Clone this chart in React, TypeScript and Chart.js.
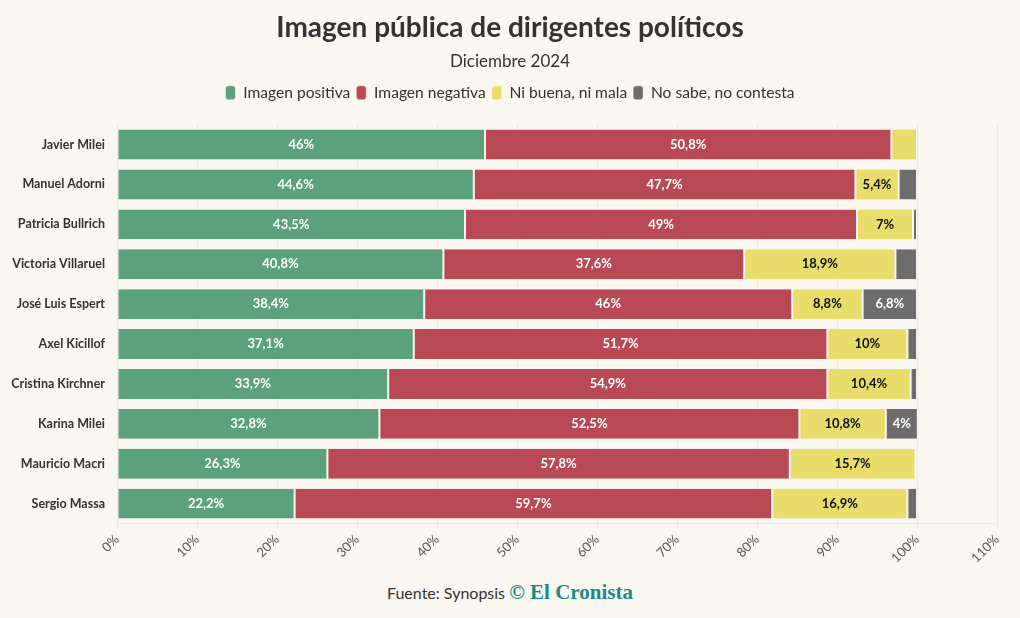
import React, { useEffect, useRef } from "react";
import { Chart, registerables } from "chart.js";

Chart.register(...registerables);

const categories = [
  "Javier Milei",
  "Manuel Adorni",
  "Patricia Bullrich",
  "Victoria Villaruel",
  "José Luis Espert",
  "Axel Kicillof",
  "Cristina Kirchner",
  "Karina Milei",
  "Mauricio Macri",
  "Sergio Massa",
];

const positiva = [46, 44.6, 43.5, 40.8, 38.4, 37.1, 33.9, 32.8, 26.3, 22.2];
const negativa = [50.8, 47.7, 49, 37.6, 46, 51.7, 54.9, 52.5, 57.8, 59.7];
const niBuena = [3.2, 5.4, 7, 18.9, 8.8, 10, 10.4, 10.8, 15.7, 16.9];
const noSabe = [0, 2.3, 0.5, 2.7, 6.8, 1.2, 0.8, 4, 0.2, 1.2];

const seriesNames = ["Imagen positiva", "Imagen negativa", "Ni buena, ni mala", "No sabe, no contesta"];
const seriesColors = ["#5ba17b", "#b94a55", "#e8dc6b", "#6d6d6d"];
const labelColors = ["#ffffff", "#ffffff", "#111111", "#ffffff"];

const xTicks = [0, 10, 20, 30, 40, 50, 60, 70, 80, 90, 100, 110];

const BG = "#faf6f0";
const FONT = "Lato, 'Noto Sans', sans-serif";

const fmt = (v: number) => String(v).replace(".", ",") + "%";

const labelPlugin = {
  id: "barLabels",
  afterDatasetsDraw(chart: any) {
    const ctx = chart.ctx;
    ctx.save();
    ctx.font = `bold 13px ${FONT}`;
    ctx.textAlign = "center";
    ctx.textBaseline = "middle";
    chart.data.datasets.forEach((ds: any, di: number) => {
      const meta = chart.getDatasetMeta(di);
      meta.data.forEach((el: any, i: number) => {
        const v = ds.data[i];
        if (v < 4) return;
        const x = (el.x + el.base) / 2;
        ctx.fillStyle = labelColors[di];
        ctx.fillText(fmt(v), x, el.y);
      });
    });
    ctx.restore();
  },
};

const legendSpacer = {
  id: "legendSpacer",
  beforeInit(chart: any) {
    const legend = chart.legend;
    if (!legend) return;
    const orig = legend.fit;
    legend.fit = function () {
      orig.call(this);
      this.height += 14;
    };
  },
};

export default function App() {
  const ref = useRef<HTMLCanvasElement | null>(null);

  useEffect(() => {
    document.body.style.margin = "0";
    document.body.style.background = BG;
    const datasets = [positiva, negativa, niBuena, noSabe].map((d, i) => ({
      label: seriesNames[i],
      data: d,
      backgroundColor: seriesColors[i],
      borderColor: BG,
      borderWidth: { left: 1, right: 1, top: 0, bottom: 0 },
      borderSkipped: false,
      barPercentage: 0.75,
      categoryPercentage: 1,
    }));
    const chart = new Chart(ref.current as HTMLCanvasElement, {
      type: "bar",
      data: { labels: categories, datasets },
      options: {
        indexAxis: "y",
        animation: false,
        responsive: false,
        maintainAspectRatio: false,
        layout: { padding: { left: 23, right: 23, top: 0, bottom: 4 } },
        plugins: {
          title: {
            display: true,
            text: "Imagen pública de dirigentes políticos",
            color: "#333333",
            font: { family: FONT, size: 28, weight: "bold" },
            padding: { top: 11, bottom: 7 },
          },
          subtitle: {
            display: true,
            text: "Diciembre 2024",
            color: "#333333",
            font: { family: FONT, size: 17 },
            padding: { top: 0, bottom: 7 },
          },
          legend: {
            display: true,
            labels: {
              color: "#333333",
              font: { family: FONT, size: 15.6 },
              boxWidth: 10,
              boxHeight: 14,
              useBorderRadius: true,
              borderRadius: 3,
              padding: 6,
            },
          },
          tooltip: { enabled: false },
        },
        scales: {
          x: {
            stacked: true,
            min: 0,
            max: 110,
            afterBuildTicks: (s: any) => {
              s.ticks = xTicks.map((v) => ({ value: v }));
            },
            ticks: {
              minRotation: 45,
              maxRotation: 45,
              color: "#555555",
              font: { family: FONT, size: 13 },
              padding: 2,
              callback: (v: any) => v + "%",
            },
            grid: { color: "#ece7df", drawTicks: true, tickLength: 6 },
            border: { display: true, color: "#efeae3" },
          },
          y: {
            stacked: true,
            afterFit: (s: any) => {
              s.width = 94;
              s._computeLabelArea = () => undefined;
            },
            ticks: {
              color: "#333333",
              font: { family: FONT, size: 12.5, weight: "bold" },
              padding: 4,
            },
            grid: { display: false },
            border: { display: false },
          },
        },
      },
      plugins: [labelPlugin, legendSpacer],
    });
    return () => chart.destroy();
  }, []);

  return (
    <div
      style={{
        position: "fixed",
        left: 0,
        top: 0,
        width: 1020,
        height: 618,
        background: BG,
        fontFamily: FONT,
      }}
    >
      <canvas ref={ref} width={1020} height={572} style={{ display: "block" }} />
      <div
        style={{
          position: "absolute",
          left: 0,
          width: 1020,
          top: 580,
          textAlign: "center",
          fontSize: 16,
          color: "#333",
          whiteSpace: "nowrap",
        }}
      >
        <span>Fuente: Synopsis </span>
        <span
          style={{
            fontFamily: "'Liberation Serif', 'DejaVu Serif', serif",
            fontWeight: "bold",
            color: "#1a8a86",
            fontSize: 21,
          }}
        >
          © El Cronista
        </span>
      </div>
    </div>
  );
}
